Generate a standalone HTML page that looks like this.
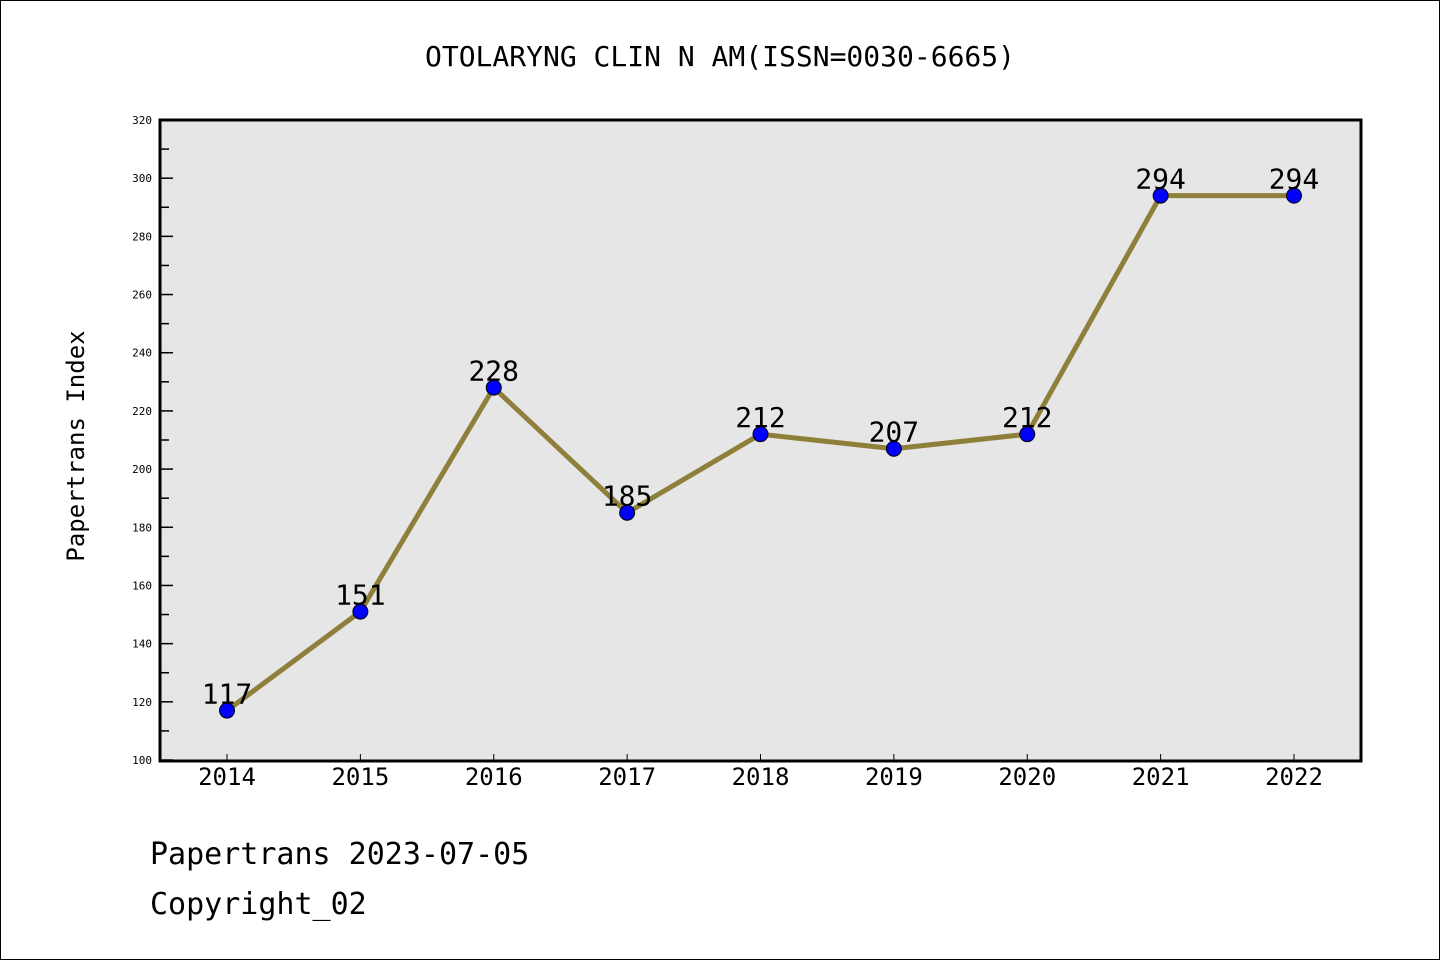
<!DOCTYPE html>
<html><head><meta charset="utf-8"><style>
html,body{margin:0;padding:0;background:#fff}
svg{display:block;font-family:"WenQuanYi Zen Hei","DejaVu Sans Mono","Liberation Mono",monospace}
</style></head><body>
<svg id="chart" width="1440" height="960" xmlns="http://www.w3.org/2000/svg">
<rect x="0.5" y="0.5" width="1439" height="959" fill="#fff" stroke="#000"/>
<text x="720" y="66" font-size="28" text-anchor="middle">OTOLARYNG CLIN N AM(ISSN=0030-6665)</text>
<rect x="160" y="120" width="1201" height="641" fill="#e6e6e6"/>
<g id="axes"></g>
<g id="series"></g>
<rect x="160" y="120" width="1201" height="641" fill="none" stroke="#000" stroke-width="3"/>
<text transform="translate(84,446) rotate(-90)" font-size="24" text-anchor="middle">Papertrans Index</text>
<text x="150" y="864" font-size="30">Papertrans 2023-07-05</text>
<text x="150" y="914" font-size="30">Copyright_02</text>
</svg>
<script>
const years=[2014,2015,2016,2017,2018,2019,2020,2021,2022];
const values=[117,151,228,185,212,207,212,294,294];
const yTicks=[100,120,140,160,180,200,220,240,260,280,300,320];
const NS="http://www.w3.org/2000/svg";
const yMin=100,yMax=320;
function ys(v){return 760-(v-yMin)/(yMax-yMin)*640;}
function xs(i){return 227+i*(1294-227)/(years.length-1);}
function mk(t,a,p){const e=document.createElementNS(NS,t);for(const k in a)e.setAttribute(k,a[k]);p.appendChild(e);return e;}
const ax=document.getElementById('axes'),se=document.getElementById('series');
yTicks.forEach((v,i)=>{
  const y=ys(v);
  const l=mk('line',{x1:160,x2:173,y1:y,y2:y,stroke:'#000','stroke-width':1.5},ax);
  
  
  const t=mk('text',{x:152,y:y+4,'font-size':11,'text-anchor':'end'},ax);
  t.textContent=v;
  
  
  if(i<yTicks.length-1){
    const ym=ys(v+(yTicks[1]-yTicks[0])/2);
    const m=mk('line',{x1:160,x2:169,y1:ym,y2:ym,stroke:'#000','stroke-width':1.5},ax);
    
    
  }
});
years.forEach((yr,i)=>{
  const x=xs(i);
  const l=mk('line',{x1:x,x2:x,y1:760,y2:754,stroke:'#000','stroke-width':1},ax);
  
  
  const t=mk('text',{x:x,y:785,'font-size':24,'text-anchor':'middle'},ax);
  t.textContent=yr;
  
  
});
const pl=mk('polyline',{points:values.map((v,i)=>xs(i)+','+ys(v)).join(' '),fill:'none',stroke:'#8e7f3a','stroke-width':5,'stroke-linejoin':'round'},se);


values.forEach((v,i)=>{
  const c=mk('circle',{cx:xs(i),cy:ys(v),r:7.5,fill:'#0000ff',stroke:'#000','stroke-width':1},se);
  
  
  const t=mk('text',{x:xs(i),y:ys(v)-7,'font-size':28,'text-anchor':'middle'},se);
  t.textContent=v;
  
  
});
</script>
</body></html>
